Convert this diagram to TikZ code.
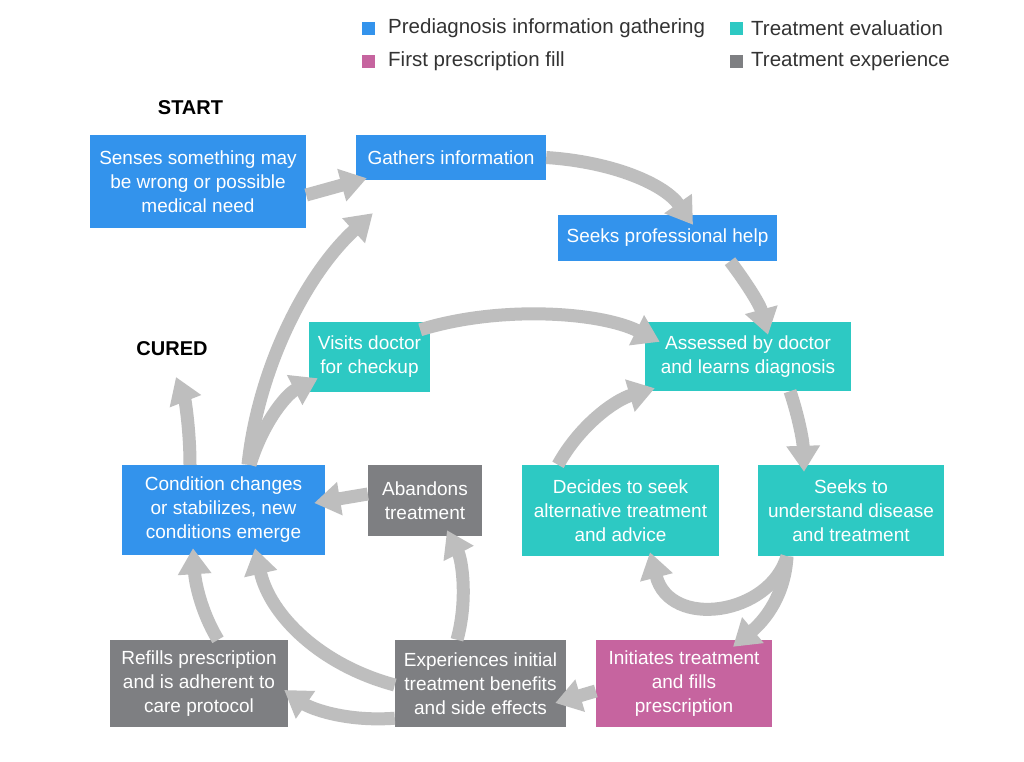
\documentclass[tikz,border=0pt]{standalone}
\usepackage{fontspec}
\setmainfont{Liberation Sans}
\usetikzlibrary{arrows.meta}
\definecolor{cblue}{HTML}{3393EC}
\definecolor{cteal}{HTML}{2DC9C3}
\definecolor{cpink}{HTML}{C6649F}
\definecolor{cgray}{HTML}{7E7F82}
\definecolor{carrow}{HTML}{BEBEBE}
\begin{document}
\begin{tikzpicture}[x=1pt,y=-1pt,
  box/.style={rectangle,inner sep=0pt,align=center,text=white,font={\fontsize{19}{24}\selectfont}},
  bluebox/.style={box,fill=cblue},
  tealbox/.style={box,fill=cteal},
  pinkbox/.style={box,fill=cpink},
  graybox/.style={box,fill=cgray},
  arr/.style={draw=carrow,line width=13pt,-{Triangle[width=32pt,length=26pt]}},
  legsq/.style={rectangle,inner sep=0pt,minimum size=13pt},
  legtxt/.style={anchor=west,inner sep=0pt,text=black!80,font={\fontsize{20.5}{24}\selectfont}},
  title/.style={inner sep=0pt,font={\fontsize{20}{24}\selectfont\bfseries}}
]
\useasboundingbox (0,0) rectangle (1024,761);
\fill[white] (0,0) rectangle (1024,761);

% legend
\node[legsq,fill=cblue] (l1) at (368.5,28) {};
\node[legtxt] (t1) at (388,28) {Prediagnosis information gathering};
\node[legsq,fill=cteal] (l2) at (736.5,28) {};
\node[legtxt] (t2) at (751,28) {Treatment evaluation};
\node[legsq,fill=cpink] (l3) at (368.5,61) {};
\node[legtxt] (t3) at (388,61) {First prescription fill};
\node[legsq,fill=cgray] (l4) at (736.5,61) {};
\node[legtxt] (t4) at (751,61) {Treatment experience};

% labels
\node[title] (start) at (190.5,108) {START};
\node[title] (cured) at (172,349) {CURED};

% boxes
\node[bluebox,minimum width=216pt,minimum height=93pt] (senses) at (198,181.5) {Senses something may\\be wrong or possible\\medical need};
\node[bluebox,minimum width=190pt,minimum height=45pt] (gathers) at (451,157.5) {Gathers information};
\node[bluebox,minimum width=219pt,minimum height=46pt] (help) at (667.5,238) {Seeks professional help};
\node[tealbox,minimum width=206pt,minimum height=69pt] (assessed) at (748,356.5) {Assessed by doctor\\and learns diagnosis};
\node[tealbox,minimum width=121pt,minimum height=70pt] (visits) at (369.5,357) {Visits doctor\\for checkup};
\node[bluebox,minimum width=203pt,minimum height=90pt] (cond) at (223.5,510) {Condition changes\\or stabilizes, new\\conditions emerge};
\node[graybox,minimum width=114pt,minimum height=71pt] (abandon) at (425,500.5) {Abandons\\treatment};
\node[tealbox,minimum width=197pt,minimum height=91pt] (decides) at (620.5,510.5) {Decides to seek\\alternative treatment\\and advice};
\node[tealbox,minimum width=186pt,minimum height=91pt] (underst) at (851,510.5) {Seeks to\\understand disease\\and treatment};
\node[pinkbox,minimum width=176pt,minimum height=87pt] (initiates) at (684,683.5) {Initiates treatment\\and fills\\prescription};
\node[graybox,minimum width=171pt,minimum height=87pt] (exper) at (480.5,683.5) {Experiences initial\\treatment benefits\\and side effects};
\node[graybox,minimum width=178pt,minimum height=87pt] (refills) at (199,683.5) {Refills prescription\\and is adherent to\\care protocol};

% connectors
\draw[arr] ([yshift=-13.5pt]senses.east) -- ([xshift=11pt,yshift=2pt]gathers.south west);
\draw[arr] (gathers.east) .. controls (615,162) and (665,185) .. ([xshift=25.5pt,yshift=-10pt]help.north);
\draw[arr] ([xshift=62.5pt]help.south) .. controls (748,285) and (760,305) .. ([xshift=20pt,yshift=-13pt]assessed.north);
\draw[arr] ([xshift=-10pt,yshift=-8pt]visits.north east) .. controls (500,305) and (600,312) .. ([xshift=15pt,yshift=-20pt]assessed.north west);
\draw[arr] ([xshift=42pt]assessed.south) .. controls (798,415) and (803,440) .. ([xshift=-47pt,yshift=-7pt]underst.north);
\draw[arr] ([xshift=-62.5pt]decides.north) .. controls (580,425) and (615,400) .. ([xshift=10pt,yshift=3pt]assessed.south west);
\draw[arr] ([xshift=-64pt]underst.south) .. controls (785,595) and (765,620) .. ([xshift=49pt,yshift=-7pt]initiates.north);
\draw[arr] ([xshift=-64pt]underst.south) .. controls (770,615) and (670,630) .. ([xshift=29.5pt,yshift=4pt]decides.south);
\draw[arr] ([yshift=-7.5pt]initiates.west) -- ([xshift=-11pt,yshift=-19.5pt]exper.east);
\draw[arr] ([xshift=-23.5pt]exper.north) .. controls (468,600) and (462,560) .. ([xshift=22pt,yshift=6pt]abandon.south);
\draw[arr] ([yshift=-1.5pt]exper.west) .. controls (320,665) and (270,615) .. ([xshift=31.5pt,yshift=7pt]cond.south);
\draw[arr] ([yshift=9pt]exper.south west) .. controls (345,722) and (310,708) .. ([xshift=-4pt,yshift=-6.5pt]refills.east);
\draw[arr] ([xshift=19pt]refills.north) .. controls (200,610) and (195,580) .. ([xshift=-30.5pt,yshift=7pt]cond.south);
\draw[arr] ([yshift=6.5pt]abandon.west) -- ([xshift=-11pt,yshift=7pt]cond.east);
\draw[arr] ([xshift=-33.5pt]cond.north) .. controls (190,430) and (185,400) .. ([xshift=4pt,yshift=-28pt]cured.center);
\draw[arr] ([xshift=26.5pt]cond.north) .. controls (262,425) and (285,395) .. ([xshift=9pt,yshift=14pt]visits.south west);
\draw[arr] ([xshift=24.5pt]cond.north) .. controls (258,370) and (305,275) .. ([xshift=17pt,yshift=-33pt]gathers.south west);
\end{tikzpicture}
\end{document}
